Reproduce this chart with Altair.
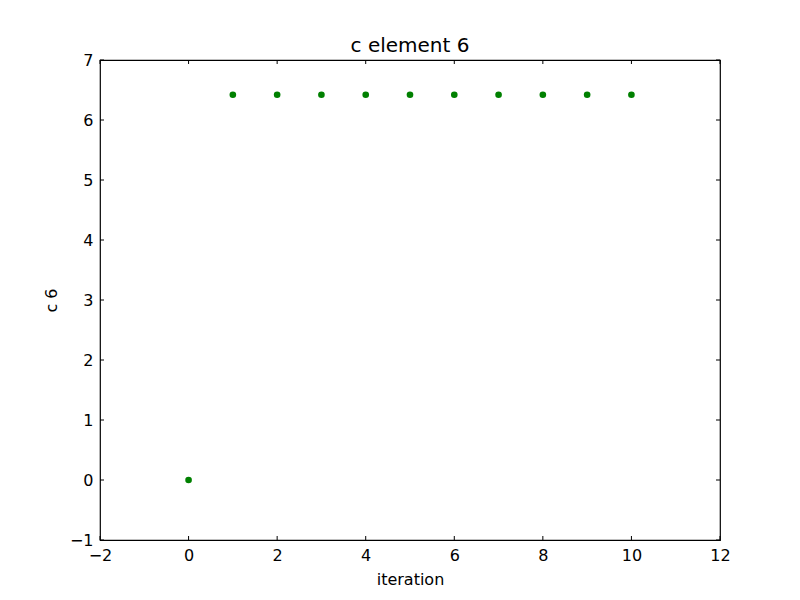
import altair as alt
import pandas as pd

iterations = [0, 1, 2, 3, 4, 5, 6, 7, 8, 9, 10]
c6_values = [0.0, 6.42, 6.42, 6.42, 6.42, 6.42, 6.42, 6.42, 6.42, 6.42, 6.42]
x_ticks = [-2, 0, 2, 4, 6, 8, 10, 12]
y_ticks = [-1, 0, 1, 2, 3, 4, 5, 6, 7]

W, H = 620, 480
FONT = "DejaVu Sans"

df = pd.DataFrame({"iteration": iterations, "c6": c6_values})
dx = pd.DataFrame({"t": x_ticks})
dy = pd.DataFrame({"t": y_ticks})

xscale = alt.Scale(domain=[-2, 12], nice=False, zero=False)
yscale = alt.Scale(domain=[-1, 7], nice=False, zero=False)

points = alt.Chart(df).mark_circle(size=44, color="#008000", opacity=1).encode(
    x=alt.X("iteration:Q", scale=xscale, title="iteration",
            axis=alt.Axis(values=x_ticks, ticks=False, domain=False, grid=False,
                          labelFlush=False, labelPadding=7, titlePadding=8, format="d")),
    y=alt.Y("c6:Q", scale=yscale, title="c 6",
            axis=alt.Axis(values=y_ticks, ticks=False, domain=False, grid=False,
                          labelFlush=False, labelPadding=7, titlePadding=10, format="d")),
)

tk = dict(color="black", strokeWidth=1)
xb = alt.Chart(dx).mark_rule(**tk).encode(x=alt.X("t:Q", scale=xscale), y=alt.value(H), y2=alt.value(H - 4))
xt = alt.Chart(dx).mark_rule(**tk).encode(x=alt.X("t:Q", scale=xscale), y=alt.value(0), y2=alt.value(4))
yl = alt.Chart(dy).mark_rule(**tk).encode(y=alt.Y("t:Q", scale=yscale), x=alt.value(0), x2=alt.value(4))
yr = alt.Chart(dy).mark_rule(**tk).encode(y=alt.Y("t:Q", scale=yscale), x=alt.value(W), x2=alt.value(W - 4))

chart = alt.layer(xb, xt, yl, yr, points).properties(
    width=W, height=H,
    background="white",
    title=alt.TitleParams("c element 6", fontSize=20, font=FONT, fontWeight="normal",
                          color="black", offset=-4),
    autosize=alt.AutoSizeParams(type="none"),
    padding={"left": 92, "top": 52, "right": 72, "bottom": 52},
).configure_view(stroke="black", strokeWidth=1.2).configure_axis(
    labelFont=FONT, titleFont=FONT, labelFontSize=16, titleFontSize=16,
    labelColor="black", titleColor="black", titleFontWeight="normal"
)

chart.save("out.html", embed_options={"renderer": "svg", "actions": False})
